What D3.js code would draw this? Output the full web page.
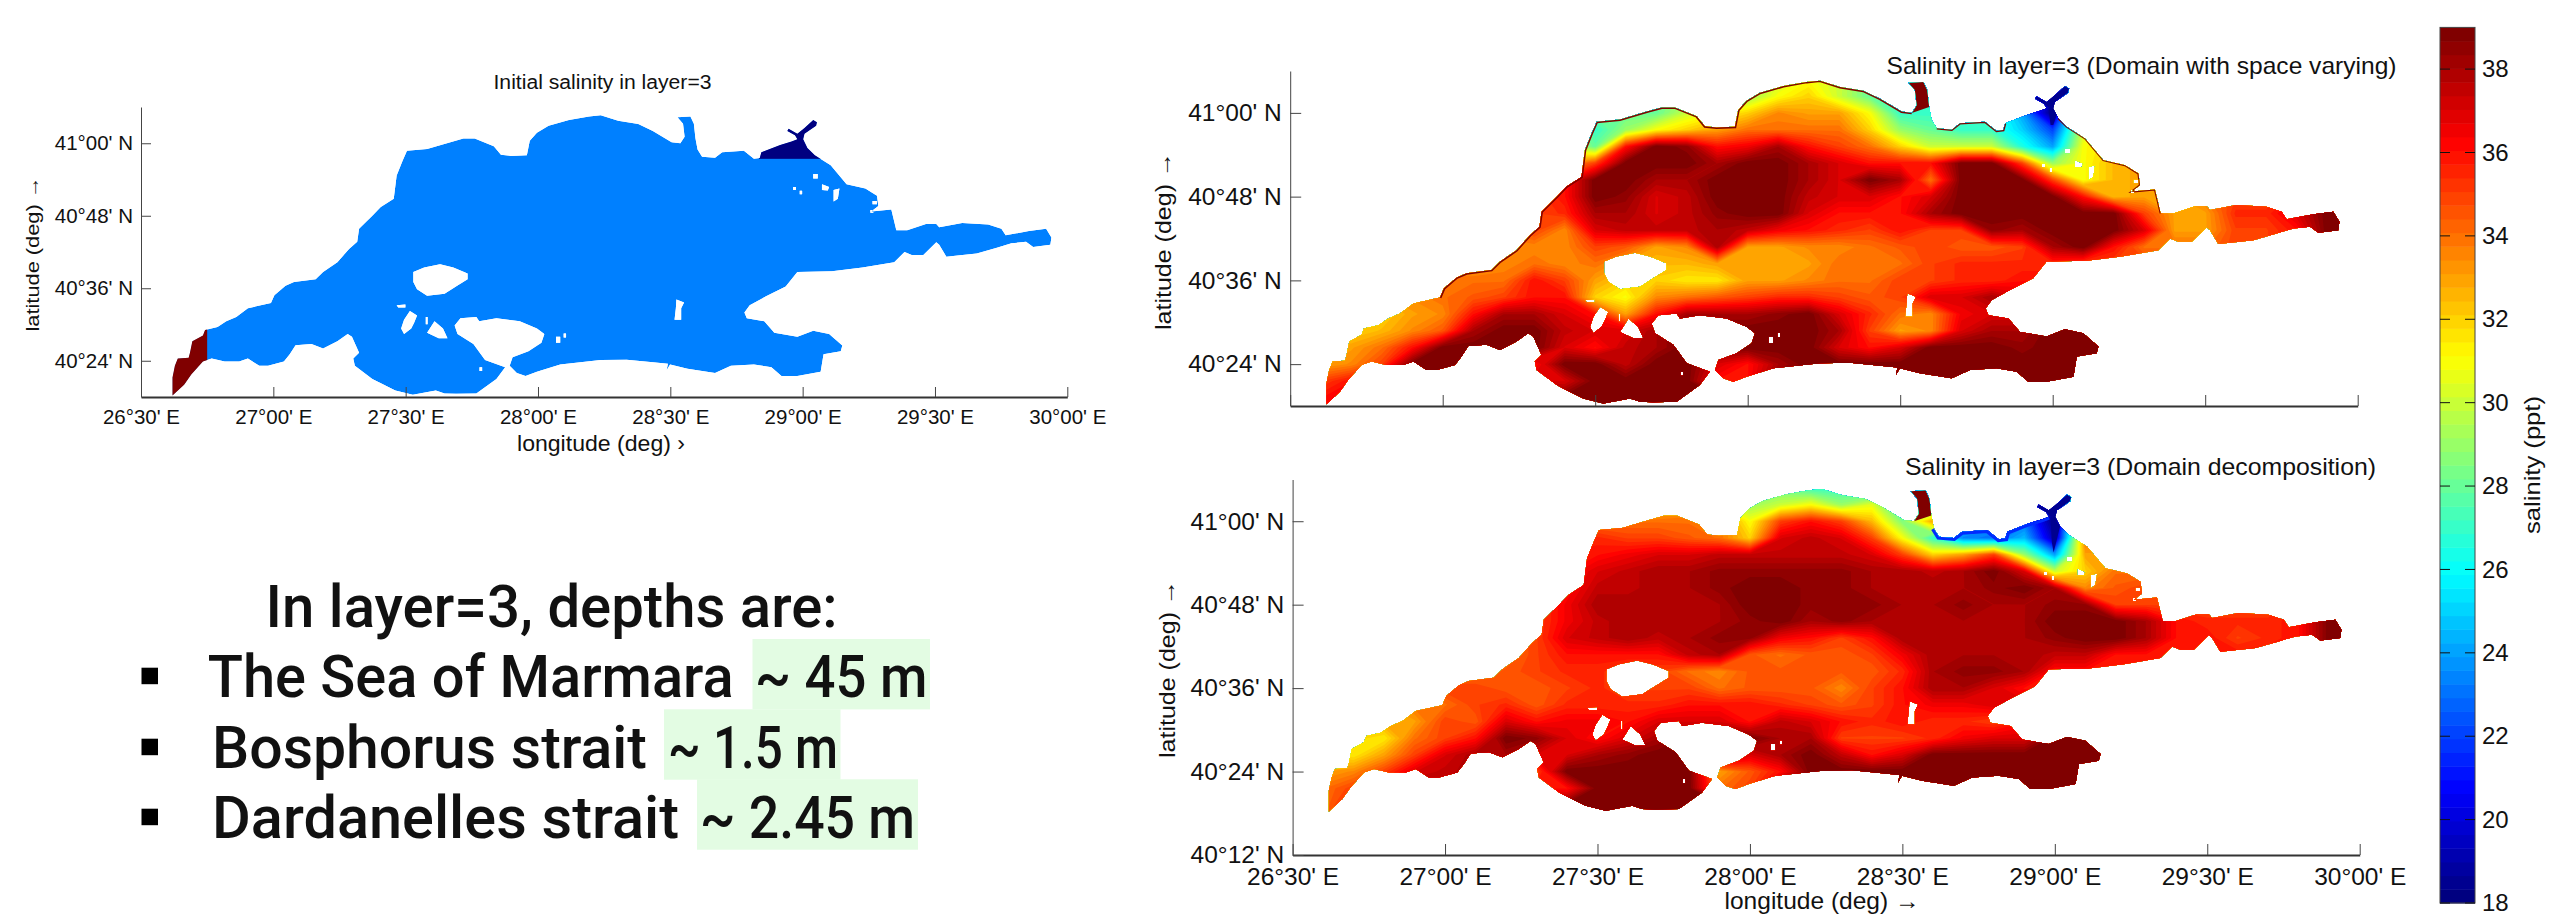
<!DOCTYPE html>
<html>
<head>
<meta charset="utf-8">
<script src="https://cdn.jsdelivr.net/npm/d3@7"></script>
<style>
  body { margin: 0; background: #fff; }
  text { font-family: "Liberation Sans", Arial, sans-serif; fill: #111; }
</style>
</head>
<body>
<svg id="chart" width="2554" height="915"></svg>
<script>
// colour bar
const jetValues = [18, 20.625, 25.875, 31.125, 36.375, 39];
const jetColors = ["#000080", "#0000ff", "#00ffff", "#ffff00", "#ff0000", "#800000"];
const barTicks = [18, 20, 22, 24, 26, 28, 30, 32, 34, 36, 38];
const bandCount = 64;

// axis ticks
const lonTicks = [26.5, 27, 27.5, 28, 28.5, 29, 29.5, 30];
const lonLabels = ["26°30' E", "27°00' E", "27°30' E", "28°00' E", "28°30' E", "29°00' E", "29°30' E", "30°00' E"];
const latTicks = [41, 40.8, 40.6, 40.4];
const latLabels = ["41°00' N", "40°48' N", "40°36' N", "40°24' N"];

// text block
const depthNames = ["The Sea of Marmara", "Bosphorus strait", "Dardanelles strait"];
const depthValues = ["~ 45 m", "~ 1.5 m", "~ 2.45 m"];

// initial field, ppt
const initialSea = 23.25, initialDardanelles = 39, initialBosphorus = 18;
const dardanellesLon = 26.75;
const bosphorusLimit = [28.835, 40.957];

// coast, [lon, lat]
const coastNW = [[26.619,40.304],[26.619,40.354],[26.628,40.386],[26.639,40.406],[26.680,40.408],[26.685,40.422],[26.694,40.454],[26.734,40.470],[26.742,40.485],[26.789,40.493],[26.822,40.509],[26.860,40.521],[26.904,40.545],[26.991,40.559],[27.004,40.581],[27.046,40.607],[27.078,40.617],[27.160,40.625],[27.188,40.645],[27.242,40.672],[27.286,40.708],[27.317,40.728],[27.324,40.764],[27.374,40.800],[27.406,40.824],[27.455,40.847],[27.466,40.911],[27.488,40.951],[27.505,40.979],[27.581,40.984],[27.669,41.003],[27.718,41.013],[27.761,41.013],[27.833,40.992],[27.860,40.968],[27.898,40.965],[27.958,40.967]];
const coastN = [[27.969,41.007],[27.996,41.029],[28.040,41.048],[28.117,41.064],[28.193,41.074],[28.237,41.077],[28.303,41.062],[28.379,41.053],[28.434,41.034],[28.505,41.003],[28.538,41.000]];
const channel = [[28.554,41.018],[28.548,41.054],[28.527,41.072],[28.576,41.074],[28.589,41.054],[28.595,41.014]];
const coastMid = [[28.603,40.983],[28.620,40.963],[28.669,40.960],[28.696,40.975],[28.778,40.979],[28.816,40.957],[28.838,40.959],[28.844,40.975],[28.915,40.995],[28.958,41.005],[28.980,41.011]];
const bosphorus = [[28.971,41.022],[28.942,41.034],[28.947,41.040],[28.980,41.026],[29.007,41.042],[29.040,41.064],[29.054,41.058],[29.051,41.048],[29.007,41.026],[29.002,41.011]];
const coastE = [[29.018,40.987],[29.046,40.967],[29.106,40.939],[29.166,40.887],[29.237,40.875],[29.281,40.855],[29.286,40.827],[29.259,40.812],[29.335,40.817],[29.354,40.760]];
const coastStrait = [[29.395,40.760],[29.466,40.777],[29.505,40.777],[29.516,40.768],[29.603,40.780],[29.701,40.776],[29.751,40.764],[29.767,40.746],[29.855,40.758],[29.920,40.764],[29.940,40.740],[29.936,40.720],[29.871,40.714],[29.844,40.728],[29.789,40.724],[29.734,40.712],[29.658,40.696],[29.543,40.687],[29.516,40.720],[29.505,40.727],[29.456,40.692],[29.412,40.692],[29.385,40.700],[29.346,40.672]];
const coastS = [[29.226,40.657],[29.111,40.647],[28.980,40.645],[28.936,40.605],[28.860,40.577],[28.800,40.553],[28.780,40.533],[28.789,40.517],[28.855,40.509],[28.893,40.477],[28.980,40.466],[29.040,40.483],[29.100,40.474],[29.150,40.442],[29.144,40.426],[29.079,40.418],[29.068,40.370],[28.980,40.358],[28.920,40.358],[28.882,40.382],[28.816,40.390],[28.729,40.386],[28.669,40.366],[28.565,40.378],[28.499,40.390],[28.486,40.374],[28.491,40.392],[28.434,40.396],[28.335,40.403],[28.237,40.402],[28.084,40.390],[27.996,40.370],[27.953,40.358],[27.920,40.366],[27.893,40.386],[27.904,40.410],[27.964,40.426],[28.013,40.450],[28.024,40.474],[27.996,40.489],[27.931,40.509],[27.843,40.517],[27.778,40.509],[27.767,40.521],[27.707,40.517],[27.685,40.497],[27.696,40.474],[27.756,40.446],[27.800,40.402],[27.876,40.382],[27.843,40.350],[27.767,40.310],[27.690,40.309],[27.647,40.310],[27.614,40.318],[27.527,40.306],[27.461,40.318],[27.395,40.342],[27.374,40.350],[27.308,40.386],[27.302,40.406],[27.324,40.422],[27.297,40.466],[27.281,40.474],[27.242,40.454],[27.188,40.434],[27.144,40.446],[27.084,40.443],[27.062,40.418],[27.040,40.398],[26.980,40.386],[26.947,40.386],[26.904,40.406],[26.871,40.398],[26.816,40.398],[26.767,40.406],[26.734,40.398],[26.690,40.362],[26.663,40.334]];

// islands and dry cells, [lon, lat]
const holes = [
  [[27.529,40.645],[27.570,40.657],[27.630,40.666],[27.680,40.657],[27.734,40.641],[27.734,40.625],[27.690,40.605],[27.647,40.585],[27.581,40.579],[27.543,40.597],[27.529,40.617]],
  [[27.483,40.489],[27.494,40.513],[27.516,40.537],[27.543,40.525],[27.532,40.505],[27.521,40.489],[27.494,40.474]],
  [[27.581,40.477],[27.609,40.509],[27.641,40.489],[27.658,40.462],[27.625,40.462]],
  [[27.466,40.553],[27.499,40.555],[27.499,40.547],[27.472,40.547]],
  [[27.576,40.521],[27.583,40.521],[27.583,40.501],[27.576,40.501]],
  [[28.068,40.466],[28.084,40.466],[28.084,40.450],[28.068,40.450]],
  [[28.097,40.475],[28.106,40.475],[28.106,40.464],[28.097,40.464]],
  [[27.779,40.382],[27.789,40.382],[27.789,40.372],[27.779,40.372]],
  [[28.523,40.569],[28.552,40.561],[28.541,40.545],[28.541,40.513],[28.516,40.513],[28.521,40.545]],
  [[29.040,40.915],[29.057,40.915],[29.057,40.903],[29.040,40.903]],
  [[29.073,40.887],[29.100,40.879],[29.095,40.870],[29.073,40.871]],
  [[29.117,40.871],[29.139,40.875],[29.133,40.847],[29.117,40.839]],
  [[28.964,40.879],[28.975,40.879],[28.975,40.871],[28.964,40.871]],
  [[28.989,40.869],[28.998,40.869],[28.998,40.859],[28.989,40.859]],
  [[29.264,40.841],[29.281,40.841],[29.281,40.832],[29.264,40.832]],
  [[29.256,40.816],[29.267,40.816],[29.267,40.808],[29.256,40.808]]
];

// narrow navy tails of the Bosphorus inflow
const tailVarying = [[28.986,41.011],[28.993,40.971],[29.002,40.971],[29.015,40.999]];
const tailDecomp = [[28.986,41.011],[28.990,40.950],[28.996,40.925],[29.008,40.960],[29.018,40.990]];

// salinity, ppt
// columns 26.5, 26.6 ... 30.0 E, rows 41.08, 41.04 ... 40.28 N
const gridLons = [26.5, 30.0];
const gridLats = [41.08, 40.28];
const salinityVarying = [
  [33,33,33,33,33,33,33,33,33,33,28,28,28,29,30,30,30,31,30,28,27,27,27,27,24,19,30,33,33,33,33,33,33,33,33,33],
  [33,33,33,33,33,33,33,33,33,33,28,28,28,29,30,29,31,32,30,28,27,27,27,27,24,19,30,33,33,33,33,33,33,33,33,33],
  [33,33,33,33,33,33,33,33,33,30,28,28,28,30,31,32,33.5,33,33,31,27,27,27,27,24,18,30,32,33,33,33,33,33,33,33,33],
  [33,33,33,33,33,33,33,33,33,30,27,29,31,32,33,34,34,34,34,32,29,28,27,27,25,22,30,32,33,33,33,33,33,33,33,33],
  [33,33,33,33,33,33,33,33,33,30,28,36,39,38.5,36,36.5,38,36,35,34,32,30,30,30,26.5,24,31,32,33,33,33,33,33,33,33,33],
  [33,33,33,33,33,33,33,33,33,33,35,39,39,39,38,39,39,38,37,36,36,36,39,39,35,29,31,32.5,33,33,33,33,33,33,33,33],
  [33,33,33,33,33,33,33,33,34,36,39,39,38,38,39,39,39,38,37,39,38,34,39,39,39,35,31,32.5,33,33,33,33,33,35,36,36],
  [33,33,33,33,33,33,33,33,35,36,39,38.5,37,37.5,39,39,39,37.5,37,37,36,37,39,39,39,39,36,32.5,33,33,34,35,35,36,39,39],
  [33,33,33,33,33,33,33,33,35,35.5,38,38,37,37.5,38.5,39,39,37,36,36,36,38,39,39,39,39,39,39,35,33,33,35.5,35.5,37,39,39],
  [33,33,33,33,33,33,33,34,35,33.5,37,37.5,37.5,37.5,38,37.5,36.5,36,35.5,35,36,35,35,38.5,38,39,39,39,37,33,33,35,35,36,39,39],
  [33,33,33,33,33,33,33,33.5,33.5,33.5,35,34.5,33,33.5,38,33,33,33.5,33.5,34,34.5,35,34.5,34.5,35,38,39,36,34,34,34,35,35,36,39,39],
  [33,33,33,33,33,33,33,33.5,34,33.5,34,33,32.5,32.5,33,33,33,33,34,34,34,35,35.5,35.5,35.5,35.5,35,35,35,35,35,35,35,36,39,39],
  [33,33,33,33,33,34,34,34,36,35,33,32,32,31.5,31.5,33,33,33.5,34,34,35,35,35.5,35.5,36,36,36,36,36,36,36,36,36,36,39,39],
  [33,33,33,33,33.5,34,34.5,35,36,36,32,31,33.5,34,34.5,35,35.5,35.5,35,34.5,35,37,37,38,37,37,37,37,37,37,37,37,37,37,39,39],
  [33,33,33,32,33,33.5,36,38,38,37,36,33,36,38,38,38,38.5,39,37,35.5,34,33.5,36.5,37,37,37,37,37,37,37,37,37,37,37,39,39],
  [32,32,32,32.5,33.5,34.5,38,39,39,37.5,37,37,38,39,39,39,39,39,38,35,33,33.5,37,38,38,39,39,39,39,39,39,39,39,39,39,39],
  [33,33,33,34,36,39,39,39,39,37,36,37.5,38,39,39,39,39,39,37,36,37,39,39,39,38.5,39,39,39,39,39,39,39,39,39,39,39],
  [33,33,33.5,35,39,39,39,39,36,39,39,37.5,39,39,37,36,38,39,39,39,39,39,39,39,39,39,39,39,39,39,39,39,39,39,39,39],
  [35,35,36,37,39,39,39,39,37,37,39,39,39,39,36,36,39,39,39,39,39,39,39,39,39,39,39,39,39,39,39,39,39,39,39,39],
  [36,36,37,39,39,39,39,39,39,39,39,39,39,39,39,39,39,39,39,39,39,39,39,39,39,39,39,39,39,39,39,39,39,39,39,39],
  [36,36,37,39,39,39,39,39,39,39,39,39,39,39,39,39,39,39,39,39,39,39,39,39,39,39,39,39,39,39,39,39,39,39,39,39]
];
const salinityDecomp = [
  [33,33,33,33,33,33,33,33,33,33,28,28,28,29,29,28,28,27,27,26,26,26,26,25,23,20,33,33,33,33,33,33,33,33,33,33],
  [33,33,33,33,33,33,33,33,33,33,30,31,32,33,31,29,30,31,29,30.5,26,26,25,24,22,19,33,33,33,33,33,33,33,33,33,33],
  [33,33,33,33,33,33,33,33,33,34,34,34,34,34,34,31,35,36,35,32.5,28.5,33,25,24,23,18,33,33,33,33,33,33,33,33,33,33],
  [33,33,33,33,33,33,33,33,33,35,35.5,35,35,34.5,34,32,37,37.5,37,35,31,27,23.5,23,24.5,19,34,34,34,34,34,34,34,34,34,34],
  [33,33,33,33,33,33,33,33,33,36,36,36.5,37,37,37.5,37.5,37.5,37.5,37.5,37,35,32,33,35,29,24,33,33,33,33,33,33,33,33,33,33],
  [33,33,33,33,33,33,33,33,33,36,37,37.5,38,38,38.5,38.5,38.5,38.5,38.5,38,38,37.5,38,39,37,30,32,34,34,34,34,34,34,34,34,34],
  [34,34,34,34,34,34,34,34,35,36,37.5,37.5,38,38,38.5,39,39,38.5,38.5,38,38,38,38,38.5,39,38,33.5,34.5,35,35,35,35,35,36,39,39],
  [34,34,34,34,34,34,34,34,35,36.5,38,38,38,38,38,39,39,38.5,38.5,38.5,38,38,38.5,38,38,38.5,38.5,35,35,35,35,35,35,36,39,39],
  [34,34,34,34,34,34,34,34,35,36.5,37.5,38,38,38,38,38.5,39,38,38.5,38,38,38,38,38,38,39,39,39,38,36,35.5,35.5,35.5,36,39,39],
  [34,34,34,34,34,34,34,34,35,37,37.5,38,37.5,38,38.5,38.5,36.5,36,35,36,38,38,38,38,38,38.5,39,39,38,36,36,35,35.5,36,39,39],
  [34,34,34,34,34,34,34,34,35,36,36,36,36,37.5,38,34.5,34,34.5,34.5,35,36.5,38,38,38,38,37.5,37.5,36,36,36,36,36,36,36,39,39],
  [34,34,34,34,34,34,34,34.5,35,35.5,35.5,35,35,34,33.5,34.5,34.5,34.5,34.5,34.5,35.5,38,38.5,38.5,38,36,36,36,36,36,36,36,36,36,39,39],
  [34,34,34,34,34,35,35,34.5,34.5,35,35.5,35,35,35,34,34.5,34.5,34.5,33.5,35,36,38,38,37,36,36,36,36,36,36,36,36,36,36,39,39],
  [33,33,33,33,34,34,35,35.5,34.5,35.5,35.5,35.5,35.5,36,36,36,35.5,35,34.5,35,36,36.5,36.5,37,37,37,37,37,37,37,37,37,37,37,39,39],
  [33,33,33,33,33,35,34.5,37,36,36.5,36.5,36,37,37,37,36,37.5,37,36,35.5,36,35.5,35.5,35,36,37,37,37,37,37,37,37,37,37,39,39],
  [32,32,32,31.5,34,35,36,39,38.5,37,36,37,38,39,39,39,38,38,35,35,35,35.5,36.5,37,37,39,39,39,39,39,39,39,39,39,39,39],
  [32,32,31.5,33,35,37,38,38,37,37,38,38.5,39,39,39,37,38,39,37.5,36,37,39,39,39,39,39,39,39,39,39,39,39,39,39,39,39],
  [33,33,33.5,35,37,37.5,38,39,35,39,39,39,39,39,33,34.5,36,39,39,39,39,39,39,39,39,39,39,39,39,39,39,39,39,39,39,39],
  [34,34,35,36,38,38,38,38,36,36,39,39,39,39,34,35,39,39,39,39,39,39,39,39,39,39,39,39,39,39,39,39,39,39,39,39],
  [34,34,36,38,39,39,39,39,39,39,39,39,39,39,39,39,39,39,39,39,39,39,39,39,39,39,39,39,39,39,39,39,39,39,39,39],
  [34,34,36,38,39,39,39,39,39,39,39,39,39,39,39,39,39,39,39,39,39,39,39,39,39,39,39,39,39,39,39,39,39,39,39,39]
];

const svg = d3.select("#chart");
const jet = d3.scaleLinear().domain(jetValues).range(jetColors).interpolate(d3.interpolateRgb).clamp(true);
const barDomain = [18, 39];
const bands = d3.range(bandCount).map(i => barDomain[0] + i * (barDomain[1] - barDomain[0]) / bandCount);
const bandColor = i => jet(barDomain[0] + i * (barDomain[1] - barDomain[0]) / (bandCount - 1));

const outline = [...coastNW, ...coastN, ...channel, ...coastMid, ...bosphorus, ...coastE, ...coastStrait, ...coastS];

function label(x, y, str, size, length, opts = {}) {
    const t = svg.append("text")
        .attr("x", x)
        .attr("y", y)
        .attr("font-size", size)
        .attr("text-anchor", opts.anchor || "middle")
        .text(str);
    if (length) t.attr("textLength", length).attr("lengthAdjust", "spacingAndGlyphs");
    if (opts.rotate) t.attr("transform", `rotate(-90 ${x} ${y})`);
    if (opts.family) t.style("font-family", opts.family);
    if (opts.weight) t.attr("font-weight", opts.weight);
    return t;
}

function drawPanel(p) {
    const x = d3.scaleLinear().domain([26.5, 30]).range(p.xRange);
    const y = d3.scaleLinear().domain(p.latDomain).range(p.yRange);
    const line = d3.line().x(d => x(d[0])).y(d => y(d[1]));
    const closed = pts => line(pts) + "Z";
    const seaPath = closed(outline) + holes.map(closed).join("");

    svg.append("clipPath").attr("id", p.id + "-sea")
        .append("path").attr("d", seaPath).attr("clip-rule", "evenodd");
    const sea = svg.append("g").attr("clip-path", `url(#${p.id}-sea)`);

    if (p.grid) {
        const rows = p.grid.length, cols = p.grid[0].length;
        const lonAt = d3.scaleLinear().domain([0.5, cols - 0.5]).range(gridLons);
        const latAt = d3.scaleLinear().domain([0.5, rows - 0.5]).range(gridLats);
        const project = d3.geoTransform({
            point(px, py) { this.stream.point(x(lonAt(px)), y(latAt(py))); }
        });
        const contours = d3.contours().size([cols, rows]).thresholds(bands)(d3.merge(p.grid));
        sea.selectAll("path.band")
            .data(contours)
            .enter().append("path")
            .attr("class", "band")
            .attr("d", d3.geoPath(project))
            .attr("fill", (d, i) => bandColor(i));

        sea.append("path").attr("d", closed([...channel, coastN[coastN.length - 1]])).attr("fill", jet(39));
        sea.append("path").attr("d", closed([...bosphorus, ...p.tail])).attr("fill", "#000090");
        p.rims.forEach(r => {
            sea.append("path")
                .attr("d", line(r.pts))
                .attr("fill", "none")
                .attr("stroke", jet(r.value))
                .attr("stroke-width", r.width);
        });
    } else {
        sea.append("path").attr("d", seaPath).attr("fill", jet(initialSea)).attr("fill-rule", "evenodd");
        sea.append("rect")
            .attr("x", x(26.5)).attr("y", y(41.1))
            .attr("width", x(dardanellesLon) - x(26.5)).attr("height", y(40.3) - y(41.1))
            .attr("fill", jet(initialDardanelles));
        sea.append("rect")
            .attr("x", x(bosphorusLimit[0])).attr("y", y(41.1))
            .attr("width", x(29.3) - x(bosphorusLimit[0])).attr("height", y(bosphorusLimit[1]) - y(41.1))
            .attr("fill", jet(initialBosphorus));
    }

    const axisX = d3.axisBottom(x)
        .tickValues(lonTicks)
        .tickSize(-p.tick)
        .tickSizeOuter(0)
        .tickPadding(p.padX)
        .tickFormat((d, i) => p.showLon ? lonLabels[i] : "");
    const gx = svg.append("g").attr("transform", `translate(0,${p.yRange[0]})`).call(axisX);
    gx.select(".domain").attr("stroke", "#333").attr("stroke-width", 2);
    gx.selectAll(".tick line").attr("stroke", "#444");
    gx.selectAll("text").attr("font-size", p.fontSize).attr("font-family", "Liberation Sans").attr("fill", "#111");

    const yTickValues = p.extraLat ? [...latTicks, p.extraLat.value] : latTicks;
    const yTickLabels = p.extraLat ? [...latLabels, p.extraLat.label] : latLabels;
    const axisY = d3.axisLeft(y)
        .tickValues(yTickValues)
        .tickSize(-p.tick)
        .tickSizeOuter(0)
        .tickPadding(p.padY)
        .tickFormat((d, i) => yTickLabels[i]);
    const gy = svg.append("g").attr("transform", `translate(${p.xRange[0]},0)`).call(axisY);
    gy.select(".domain").attr("stroke", "#444").attr("stroke-width", 1);
    gy.selectAll(".tick line").attr("stroke", "#444");
    gy.selectAll("text").attr("font-size", p.fontSize).attr("font-family", "Liberation Sans").attr("fill", "#111");
}

drawPanel({
    id: "initial", xRange: [141, 1067.3], yRange: [397, 107], latDomain: [40.3, 41.1],
    tick: 10, padX: 12.5, padY: 8, fontSize: 20.5, showLon: true
});
drawPanel({
    id: "varying", xRange: [1290.2, 2357.7], yRange: [406, 71], latDomain: [40.3, 41.1],
    tick: 11, padX: 12, padY: 8.5, fontSize: 24.5, showLon: false,
    grid: salinityVarying, tail: tailVarying,
    rims: [
        { pts: [...coastNW.slice(13), ...coastN], value: 39, width: 3 },
        { pts: coastMid.slice(1, 8), value: 39, width: 2.5 },
        { pts: coastE, value: 39, width: 2 }
    ]
});
drawPanel({
    id: "decomp", xRange: [1292.6, 2359.7], yRange: [855, 479.5], latDomain: [40.2, 41.1],
    tick: 11, padX: 12.6, padY: 8.5, fontSize: 24.5, showLon: true,
    extraLat: { value: 40.2, label: "40°12' N" },
    grid: salinityDecomp, tail: tailDecomp,
    rims: [
        { pts: coastMid, value: 21.5, width: 6 }
    ]
});

// titles and axis names
label(602.5, 89, "Initial salinity in layer=3", 20, 218);
label(2141.5, 74, "Salinity in layer=3 (Domain with space varying)", 24, 510);
label(2140.5, 475, "Salinity in layer=3 (Domain decomposition)", 24, 471);
label(601, 451, "longitude (deg)    ›", 22, 168);
label(1822, 909, "longitude (deg) →", 24, 195);
label(39, 254, "latitude (deg) →", 19, 155, { rotate: true });
label(1171, 241, "latitude (deg) →", 22, 178, { rotate: true });
label(1175, 669, "latitude (deg) →", 22, 178, { rotate: true });

// colour bar
const barY = d3.scaleLinear().domain(barDomain).range([903, 27.4]);
svg.append("g").selectAll("rect")
    .data(d3.range(bandCount))
    .enter().append("rect")
    .attr("x", 2440)
    .attr("width", 35)
    .attr("y", i => barY(bands[i] + 21 / bandCount))
    .attr("height", barY(18) - barY(18 + 21 / bandCount) + 0.5)
    .attr("fill", bandColor);
svg.append("rect")
    .attr("x", 2440).attr("y", barY(39)).attr("width", 35).attr("height", barY(18) - barY(39))
    .attr("fill", "none").attr("stroke", "#444").attr("stroke-width", 1);
const barAxis = d3.axisRight(barY).tickValues(barTicks).tickSize(0).tickPadding(7 + 35).tickFormat(d3.format("d"));
const gBar = svg.append("g").attr("transform", "translate(2440,0)").call(barAxis);
gBar.select(".domain").remove();
gBar.selectAll("text").attr("font-size", 24).attr("font-family", "Liberation Sans").attr("fill", "#111");
barTicks.forEach(t => {
    [[2440, 2450], [2465, 2475]].forEach(s => {
        svg.append("line")
            .attr("x1", s[0]).attr("x2", s[1])
            .attr("y1", barY(t)).attr("y2", barY(t))
            .attr("stroke", "#111");
    });
});
label(2540, 465, "salinity (ppt)", 22, 138, { rotate: true });

// depth note
const noteFont = "Roboto";
label(265.6, 627, "In layer=3, depths are:", 59, 572, { anchor: "start", family: noteFont, weight: 500 });
const noteLines = [
    { nameX: 207.7, nameLen: 526, rect: [752.5, 930], valueX: 755, valueLen: 172.5, base: 696.7, top: 639 },
    { nameX: 212, nameLen: 435, rect: [664, 840.5], valueX: 668, valueLen: 170, base: 767.7, top: 709.3 },
    { nameX: 212, nameLen: 467, rect: [697, 918], valueX: 700, valueLen: 215, base: 837.7, top: 779.3 }
];
noteLines.forEach((n, i) => {
    svg.append("rect")
        .attr("x", n.rect[0]).attr("width", n.rect[1] - n.rect[0])
        .attr("y", n.top).attr("height", 70.4)
        .attr("fill", "#e3fce3");
    svg.append("rect")
        .attr("x", 141.5).attr("width", 16.5)
        .attr("y", n.base - 29).attr("height", 16.5)
        .attr("fill", "#000");
    label(n.nameX, n.base, depthNames[i], 59, n.nameLen, { anchor: "start", family: noteFont, weight: 500 });
    label(n.valueX, n.base, depthValues[i], 59, n.valueLen, { anchor: "start", family: noteFont, weight: 500 });
});
</script>
</body>
</html>
